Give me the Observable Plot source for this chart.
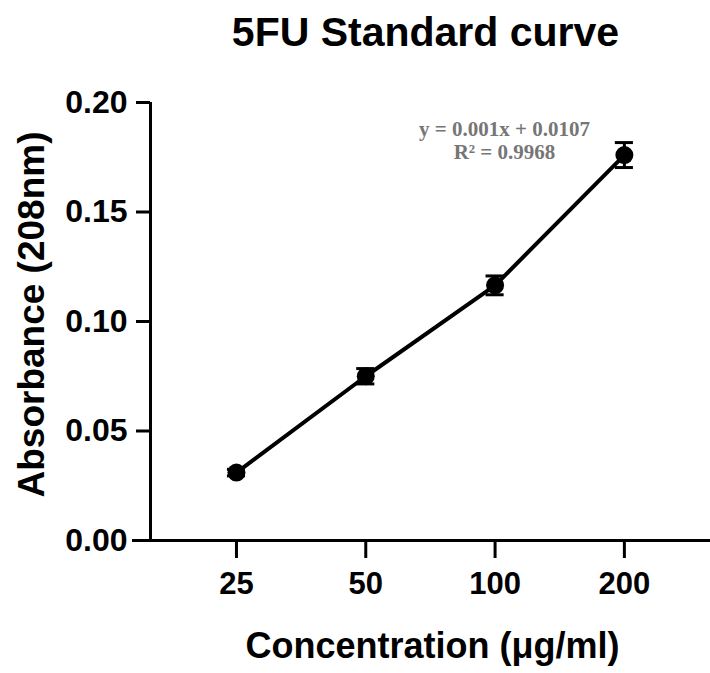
<!DOCTYPE html>
<html>
<head>
<meta charset="utf-8">
<script src="https://cdn.jsdelivr.net/npm/d3@7"></script>
<script src="https://cdn.jsdelivr.net/npm/@observablehq/plot@0.6"></script>
<style>
  html, body { margin: 0; padding: 0; background: white; }
</style>
</head>
<body>
<div id="chart"></div>
<script>
// ---- data ----
const concentrations = ["25", "50", "100", "200"];        // µg/ml (categorical, evenly spaced)
const absorbance    = [0.031, 0.075, 0.1165, 0.176];      // mean absorbance at 208 nm
const errors        = [0.0015, 0.0035, 0.0043, 0.0057];   // error bar half-length
const yTicks        = [0, 0.05, 0.10, 0.15, 0.20];
const titleText     = "5FU Standard curve";
const xLabel        = "Concentration (\u03bcg/ml)";
const yLabel        = "Absorbance (208nm)";
const equationLines = ["y = 0.001x + 0.0107", "R\u00b2 = 0.9968"];

const data = concentrations.map((c, i) => ({i, c, y: absorbance[i], e: errors[i]}));

const xDomain = [-0.804, 3.666];
const capHalf = 0.07;
const sans = "'Liberation Sans', Arial, Helvetica, sans-serif";

const chart = Plot.plot({
  width: 710,
  height: 673,
  marginTop: 102,
  marginBottom: 133,
  marginLeft: 132,
  marginRight: 0,
  style: {fontFamily: sans, fontWeight: "bold", background: "white", color: "black", overflow: "visible"},
  x: {type: "linear", domain: xDomain, axis: null},
  y: {domain: [0, 0.2], axis: null},
  marks: [
    // axes
    Plot.axisX({ticks: [0, 1, 2, 3], tickFormat: i => concentrations[i], tickSize: 18, tickPadding: 13,
                strokeWidth: 3, fontSize: 31, label: null}),
    Plot.axisY({ticks: yTicks, tickFormat: d3.format(".2f"), tickSize: 14, tickPadding: 9, dx: 18,
                strokeWidth: 3, fontSize: 32, label: null}),
    Plot.ruleY([0], {strokeWidth: 3}),
    Plot.ruleX([xDomain[0]], {y1: 0, y2: 0.2, dx: 18, strokeWidth: 3}),
    // error bars
    Plot.ruleX(data, {x: "i", y1: d => d.y - d.e, y2: d => d.y + d.e, strokeWidth: 3}),
    Plot.ruleY(data, {x1: d => d.i - capHalf, x2: d => d.i + capHalf, y: d => d.y + d.e, strokeWidth: 3}),
    Plot.ruleY(data, {x1: d => d.i - capHalf, x2: d => d.i + capHalf, y: d => d.y - d.e, strokeWidth: 3}),
    // connecting line and points
    Plot.line(data, {x: "i", y: "y", stroke: "black", strokeWidth: 4}),
    Plot.dot(data, {x: "i", y: "y", r: 9, fill: "black", stroke: "none"}),
    // equation
    Plot.text([equationLines.join("\n")], {text: d => d, frameAnchor: "top", dx: 83, dy: 17, lineAnchor: "top",
      fontFamily: "'Liberation Serif', 'Times New Roman', serif", fontSize: 21, fill: "#767676", lineHeight: 1.1}),
    // title and axis labels
    Plot.text([titleText], {text: d => d, frameAnchor: "top", dx: 4, dy: -57, lineAnchor: "bottom", fontSize: 41}),
    Plot.text([xLabel], {text: d => d, frameAnchor: "bottom", dx: 11, dy: 117, lineAnchor: "bottom", fontSize: 36}),
    Plot.text([yLabel], {text: d => d, frameAnchor: "left", textAnchor: "middle", dx: -100, dy: -7,
      rotate: -90, fontSize: 37})
  ]
});
document.getElementById("chart").appendChild(chart);
</script>
</body>
</html>
